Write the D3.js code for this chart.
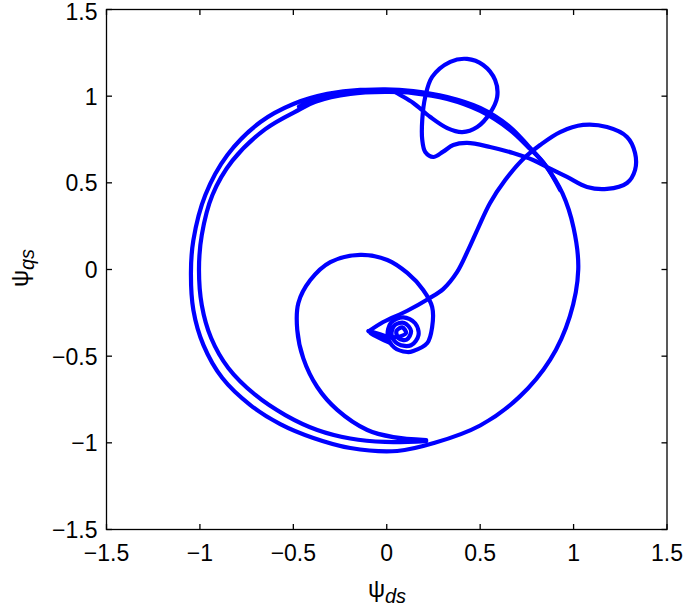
<!DOCTYPE html>
<html>
    <head>
        <script src="https://d3js.org/d3.v7.min.js"></script>
        <style>
            body {
                margin: 0;
                background-color: #ffffff;
            }

            svg {
                display: block;
                font-family: 'Liberation Sans', Arial, sans-serif;
            }

            .frame {
                fill: none;
                stroke: #000;
                stroke-width: 1.3px;
            }

            .tick-mark {
                stroke: #000;
                stroke-width: 1.3px;
            }

            .tick-label {
                font-size: 23px;
                fill: #000;
            }

            .axis-title {
                font-size: 24px;
                fill: #000;
            }

            .trace {
                fill: none;
                stroke: #0000ff;
                stroke-width: 4.2px;
                stroke-linejoin: round;
                stroke-linecap: round;
            }
        </style>
    </head>
    <body>
        <script>
            // axis ticks (same on both axes)
            const tickValues = [-1.5, -1, -0.5, 0, 0.5, 1, 1.5];

            // steady-state turn before the fault (psi_ds, psi_qs)
            const preFault = [
                [0.928, 0.459], [0.848, 0.603], [0.751, 0.713], [0.66, 0.805], [0.5, 0.915],
                [0.324, 0.984], [0.142, 1.018], [-0.008, 1.024], [-0.195, 1.013], [-0.382, 0.968],
                [-0.463, 0.925], [-0.65, 0.81], [-0.826, 0.628], [-0.933, 0.43], [-0.99, 0.199],
                [-1.005, 0.0], [-0.99, -0.205], [-0.94, -0.395], [-0.848, -0.568], [-0.703, -0.724],
                [-0.543, -0.84], [-0.372, -0.926], [-0.195, -0.975], [-0.008, -0.995], [0.211, -0.99]
            ];

            // decaying spiral after the fault
            const spiral = [
                [0.211, -0.984], [0.035, -0.967], [-0.104, -0.926], [-0.265, -0.81], [-0.372, -0.678],
                [-0.447, -0.511], [-0.479, -0.349], [-0.473, -0.193], [-0.409, -0.061], [-0.302, 0.043],
                [-0.142, 0.084], [0.003, 0.055], [0.11, -0.02], [0.195, -0.118], [0.243, -0.216],
                [0.243, -0.332], [0.217, -0.424], [0.142, -0.47], [0.11, -0.476], [0.04, -0.45],
                [0.005, -0.384], [0.024, -0.305], [0.088, -0.276], [0.152, -0.31], [0.17, -0.378],
                [0.13, -0.437], [0.061, -0.43], [0.026, -0.378], [0.042, -0.322], [0.094, -0.308],
                [0.13, -0.355], [0.106, -0.405], [0.064, -0.398], [0.052, -0.355], [0.083, -0.334],
                [0.103, -0.366], [0.061, -0.389]
            ];

            // wedge where the flux stalls near the centre
            const wedge = [
                [0.061, -0.389], [-0.013, -0.392], [-0.099, -0.355], [0.019, -0.424], [-0.088, -0.366],
                [0.029, -0.395], [-0.094, -0.355]
            ];

            // recovery: rise to the right loop, back through the top loop
            const recovery = [
                [-0.094, -0.355], [-0.019, -0.303], [0.11, -0.238], [0.222, -0.17], [0.302, -0.113],
                [0.377, -0.014], [0.436, 0.113], [0.489, 0.239], [0.553, 0.384], [0.634, 0.516],
                [0.725, 0.632], [0.821, 0.718], [0.928, 0.793], [1.051, 0.834], [1.179, 0.822],
                [1.286, 0.765], [1.329, 0.672], [1.329, 0.574], [1.286, 0.499], [1.179, 0.465],
                [1.072, 0.476], [0.965, 0.534], [0.858, 0.591], [0.783, 0.632], [0.676, 0.672],
                [0.553, 0.707], [0.43, 0.73], [0.356, 0.718], [0.302, 0.68], [0.249, 0.649],
                [0.206, 0.678], [0.19, 0.748], [0.19, 0.863], [0.206, 0.996], [0.243, 1.111],
                [0.34, 1.198], [0.43, 1.215], [0.516, 1.18], [0.58, 1.093], [0.591, 0.995],
                [0.553, 0.903], [0.484, 0.822], [0.404, 0.793], [0.324, 0.816], [0.233, 0.88],
                [0.142, 0.961], [0.072, 1.007], [0.035, 1.03]
            ];

            // turn after recovery, pushed slightly to the left
            const postFault = [
                [0.035, 1.03], [-0.142, 1.036], [-0.318, 1.013], [-0.5, 0.955], [-0.676, 0.851],
                [-0.853, 0.661], [-0.971, 0.43], [-1.035, 0.17], [-1.048, -0.014], [-1.035, -0.234],
                [-0.981, -0.436], [-0.88, -0.626], [-0.73, -0.782], [-0.57, -0.892], [-0.393, -0.972],
                [-0.195, -1.03], [0.056, -1.047], [0.257, -1.0], [0.5, -0.9], [0.71, -0.735],
                [0.875, -0.52], [0.98, -0.27], [1.025, 0.0], [1.0, 0.24], [0.94, 0.44],
                [0.85, 0.6], [0.76, 0.71], [0.66, 0.822], [0.5, 0.932], [0.324, 0.995],
                [0.142, 1.03], [-0.008, 1.04], [-0.19, 1.03], [-0.36, 0.99], [-0.47, 0.94]
            ];

            const width = 685;
            const height = 609;
            const plot = { left: 106.5, right: 667, top: 9.5, bottom: 529.5 };

            const x = d3.scaleLinear().domain([-1.5, 1.5]).range([plot.left, plot.right]);
            const y = d3.scaleLinear().domain([-1.5, 1.5]).range([plot.bottom, plot.top]);
            const fmt = (v) => String(v).replace('-', '\u2212');
            const tickLen = 5.5;

            const svg = d3.select('body').append('svg').attr('width', width).attr('height', height);

            // curve
            const line = d3
                .line()
                .x((d) => x(d[0]))
                .y((d) => y(d[1]))
                .curve(d3.curveCatmullRom.alpha(0.5));

            svg.append('g')
                .selectAll('path')
                .data([preFault, spiral, wedge, recovery, postFault])
                .enter()
                .append('path')
                .attr('class', 'trace')
                .attr('d', line);

            // frame and ticks
            svg.append('rect')
                .attr('class', 'frame')
                .attr('x', plot.left)
                .attr('y', plot.top)
                .attr('width', plot.right - plot.left)
                .attr('height', plot.bottom - plot.top);

            const ticks = svg.append('g');
            tickValues.forEach((v) => {
                ticks.append('line').attr('class', 'tick-mark')
                    .attr('x1', x(v)).attr('x2', x(v)).attr('y1', plot.bottom).attr('y2', plot.bottom - tickLen);
                ticks.append('line').attr('class', 'tick-mark')
                    .attr('x1', x(v)).attr('x2', x(v)).attr('y1', plot.top).attr('y2', plot.top + tickLen);
                ticks.append('line').attr('class', 'tick-mark')
                    .attr('y1', y(v)).attr('y2', y(v)).attr('x1', plot.left).attr('x2', plot.left + tickLen);
                ticks.append('line').attr('class', 'tick-mark')
                    .attr('y1', y(v)).attr('y2', y(v)).attr('x1', plot.right).attr('x2', plot.right - tickLen);

                ticks.append('text').attr('class', 'tick-label')
                    .attr('x', x(v)).attr('y', plot.bottom + 31)
                    .attr('text-anchor', 'middle')
                    .text(fmt(v));
                ticks.append('text').attr('class', 'tick-label')
                    .attr('x', plot.left - 9).attr('y', Math.max(y(v) + 8.5, 20))
                    .attr('text-anchor', 'end')
                    .text(fmt(v));
            });

            // axis titles
            const xTitle = svg.append('text').attr('class', 'axis-title')
                .attr('x', 387).attr('y', 597).attr('text-anchor', 'middle');
            xTitle.append('tspan').text('\u03c8');
            xTitle.append('tspan').attr('dy', 6).attr('font-style', 'italic').attr('font-size', 20).text('ds');

            const yTitle = svg.append('text').attr('class', 'axis-title')
                .attr('transform', 'translate(28,268) rotate(-90)').attr('text-anchor', 'middle');
            yTitle.append('tspan').text('\u03c8');
            yTitle.append('tspan').attr('dy', 6).attr('font-style', 'italic').attr('font-size', 20).text('qs');
        </script>
    </body>
</html>
